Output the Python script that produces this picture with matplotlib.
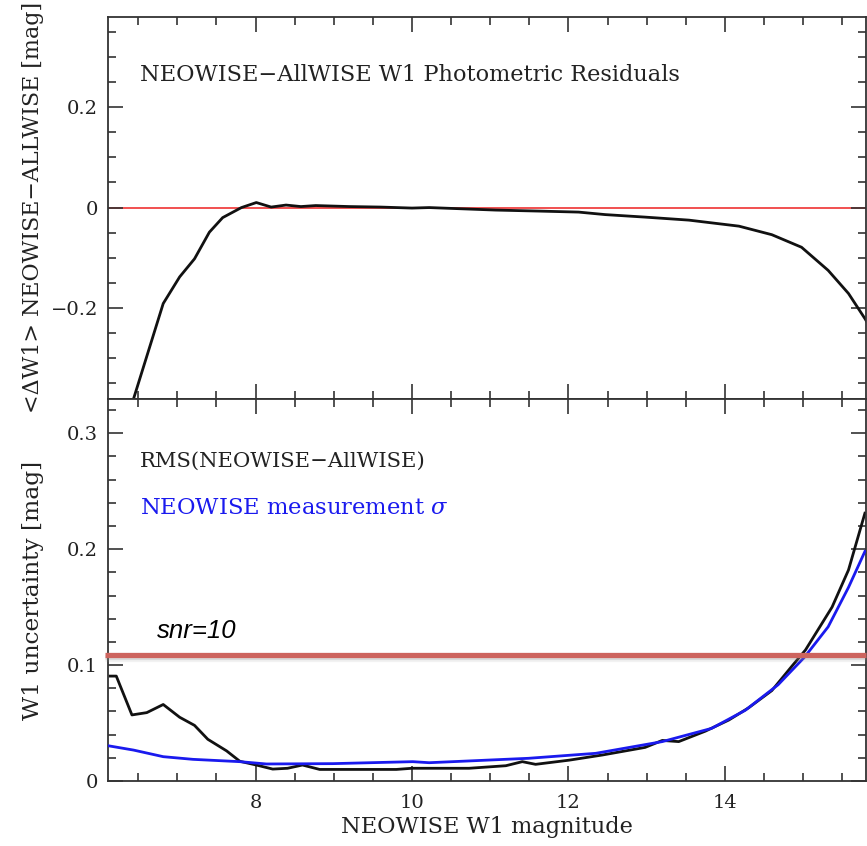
#!/usr/bin/env python3
import matplotlib

matplotlib.use("Agg")
import matplotlib.pyplot as plt
import matplotlib.patheffects as pe
from matplotlib.ticker import MultipleLocator, FixedLocator

# top panel: mean residual <dW1> vs W1 magnitude
resid_mag = [6.20, 6.44, 6.82, 7.03, 7.22, 7.41, 7.58, 7.82, 8.01, 8.20, 8.39, 8.58, 8.77,
             9.20, 9.60, 10.00, 10.22, 10.73, 11.07, 11.62, 12.13, 12.47, 12.98, 13.54,
             14.18, 14.60, 14.98, 15.32, 15.58, 15.79, 15.90]
resid_val = [-0.500, -0.381, -0.191, -0.138, -0.102, -0.049, -0.020, 0.000, 0.010, 0.001,
             0.005, 0.002, 0.004, 0.002, 0.001, -0.001, 0.000, -0.003, -0.005, -0.007,
             -0.009, -0.014, -0.019, -0.025, -0.037, -0.054, -0.079, -0.125, -0.171,
             -0.221, -0.250]

# bottom panel: RMS(NEOWISE-AllWISE)
rms_mag = [6.14, 6.22, 6.42, 6.61, 6.82, 7.03, 7.22, 7.39, 7.63, 7.80, 8.01, 8.22, 8.41,
           8.60, 8.82, 9.30, 9.80, 10.00, 10.22, 10.73, 11.20, 11.41, 11.58, 12.01, 12.43,
           12.98, 13.20, 13.41, 13.75, 14.05, 14.30, 14.60, 14.85, 15.03, 15.37, 15.58, 15.79]
rms_val = [0.0905, 0.0905, 0.057, 0.059, 0.066, 0.055, 0.048, 0.036, 0.026, 0.017, 0.0138,
           0.0103, 0.011, 0.0138, 0.010, 0.010, 0.010, 0.011, 0.011, 0.011, 0.0132, 0.0167,
           0.0144, 0.018, 0.0224, 0.029, 0.035, 0.034, 0.043, 0.0526, 0.063, 0.078, 0.0985,
           0.113, 0.150, 0.182, 0.231]

# bottom panel: NEOWISE measurement sigma
sig_mag = [6.11, 6.44, 6.82, 7.20, 7.80, 8.14, 8.99, 10.01, 10.22, 11.49, 12.35, 13.20,
           13.83, 14.26, 14.68, 15.02, 15.32, 15.58, 15.79]
sig_val = [0.0305, 0.0267, 0.021, 0.0187, 0.0167, 0.0147, 0.015, 0.0167, 0.0158, 0.0196,
           0.0239, 0.034, 0.0454, 0.061, 0.083, 0.107, 0.133, 0.167, 0.198]

snr10_level = 0.1085

SERIF = "DejaVu Serif"
plt.rcParams.update(
    {
        "font.family": SERIF,
        "mathtext.fontset": "dejavuserif",
        "font.size": 14,
        "axes.edgecolor": "#333333",
        "axes.linewidth": 1.3,
        "xtick.color": "#333333",
        "ytick.color": "#333333",
        "xtick.labelcolor": "#222222",
        "ytick.labelcolor": "#222222",
    }
)

fig = plt.figure(figsize=(8.67, 8.46), dpi=100)
L, R = 0.1242, 0.9994
ax1 = fig.add_axes([L, 0.5284, R - L, 0.9803 - 0.5284])
ax2 = fig.add_axes([L, 0.0768, R - L, 0.5284 - 0.0768], sharex=ax1)

for ax in (ax1, ax2):
    ax.tick_params(which="both", direction="in", top=True, right=True, width=1.2)
    ax.tick_params(which="major", length=11, labelsize=14, pad=7)
    ax.tick_params(which="minor", length=5.5)
    ax.xaxis.set_major_locator(MultipleLocator(2))
    ax.xaxis.set_minor_locator(MultipleLocator(0.5))

ax1.set_xlim(6.11, 15.81)
ax1.tick_params(labelbottom=False)
ax2.tick_params(axis="x", which="major", pad=9)

# top panel
ax1.axhline(0, color="#ee2020", lw=1.1, zorder=1)
ax1.plot(resid_mag, resid_val, color="#111111", lw=2.0, zorder=2)
ax1.set_ylim(-0.381, 0.38)
ax1.yaxis.set_major_locator(FixedLocator([-0.2, 0, 0.2]))
ax1.yaxis.set_minor_locator(MultipleLocator(0.05))
ax1.set_yticklabels(["\u22120.2", "0", "0.2"])
ax1.text(0.043, 0.847, "NEOWISE\u2212AllWISE W1 Photometric Residuals",
         transform=ax1.transAxes, ha="left", va="center", fontsize=16.2, color="#222222")

# bottom panel
ax2.plot(sig_mag, sig_val, color="#1a1aee", lw=2.0, zorder=3)
ax2.plot(rms_mag, rms_val, color="#111111", lw=2.0, zorder=2)
ax2.set_ylim(0, 0.3295)
ax2.yaxis.set_major_locator(FixedLocator([0, 0.1, 0.2, 0.3]))
ax2.yaxis.set_minor_locator(MultipleLocator(0.02))
ax2.set_yticklabels(["0", "0.1", "0.2", "0.3"])
ax2.text(0.043, 0.836, "RMS(NEOWISE\u2212AllWISE)", transform=ax2.transAxes,
         ha="left", va="center", fontsize=15.2, color="#222222")
ax2.text(0.043, 0.715, r"NEOWISE measurement $\sigma$", transform=ax2.transAxes,
         ha="left", va="center", fontsize=16.3, color="#1a1aee")

# snr=10 band with a soft shadow
ax2.plot([-0.004, 1.0], [snr10_level, snr10_level], transform=ax2.get_yaxis_transform(),
         color="#cd645e", lw=3.8, clip_on=False, zorder=5, solid_capstyle="butt",
         path_effects=[pe.SimpleLineShadow(offset=(0, -3.0), shadow_color="#999999", alpha=0.12),
                       pe.SimpleLineShadow(offset=(0, -1.6), shadow_color="#888888", alpha=0.22),
                       pe.Normal()])
ax2.text(6.74, 0.129, "snr=10", fontsize=18.5, style="italic",
         family="Liberation Sans", ha="left", va="center", color="black")

ax2.set_xlabel("NEOWISE W1 magnitude", fontsize=16.2, labelpad=3, color="#222222")
fig.text(0.038, 0.755, "<\u0394W1> NEOWISE\u2212ALLWISE [mag]", rotation=90,
         ha="center", va="center", fontsize=15.9, color="#222222")
fig.text(0.038, 0.302, "W1 uncertainty [mag]", rotation=90,
         ha="center", va="center", fontsize=16.8, color="#222222")

fig.savefig("out.png", dpi=100)
plt.close(fig)
